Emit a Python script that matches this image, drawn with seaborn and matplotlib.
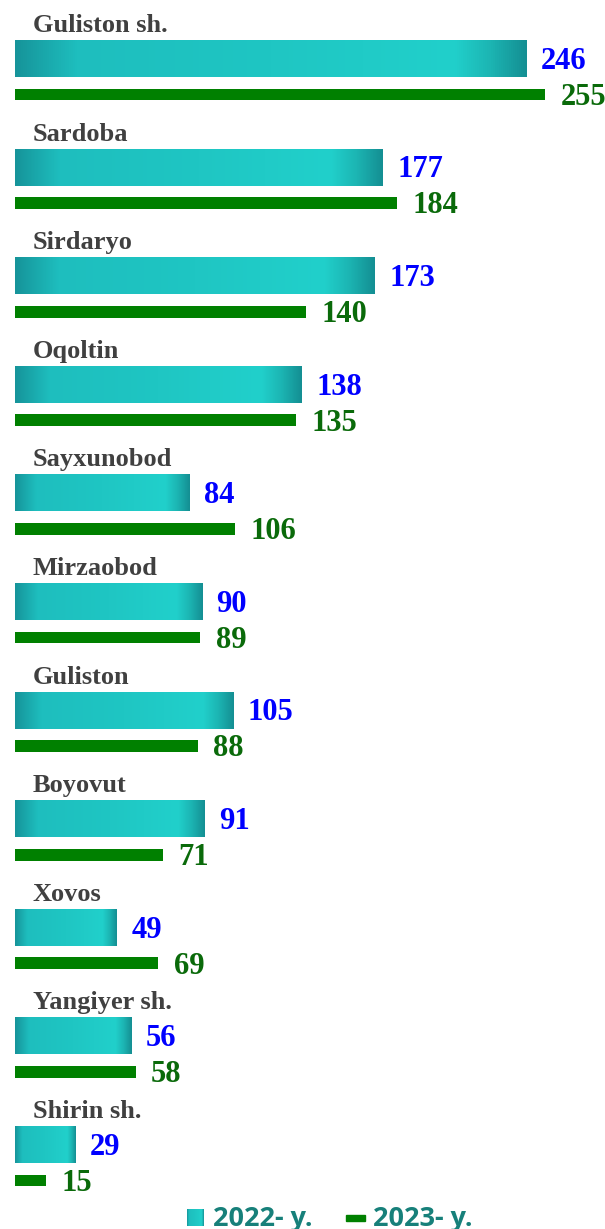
import numpy as np
import matplotlib
matplotlib.use("Agg")
import matplotlib.pyplot as plt
from matplotlib.colors import LinearSegmentedColormap
import seaborn as sns

# data
regions = ['Guliston sh.', 'Sardoba', 'Sirdaryo', 'Oqoltin', 'Sayxunobod',
           'Mirzaobod', 'Guliston', 'Boyovut', 'Xovos', 'Yangiyer sh.', 'Shirin sh.']
y2022 = [246, 177, 173, 138, 84, 90, 105, 91, 49, 56, 29]
y2023 = [255, 184, 140, 135, 106, 89, 88, 71, 69, 58, 15]
legend_labels = ['2022- y.', '2023- y.']

sns.set_theme(style='white')
plt.rcParams['font.family'] = ['Liberation Serif', 'DejaVu Serif']

fig = plt.figure(figsize=(6.05, 12.29), dpi=100)
ax = fig.add_axes([0, 0, 1, 1])

pos = np.arange(len(regions))
green_off = 0.3315

sns.barplot(x=y2022, y=pos, orient='h', native_scale=True, width=0.341,
            color='#1fc5c3', errorbar=None, ax=ax)
n_teal = len(ax.patches)
sns.barplot(x=y2023, y=pos + green_off, orient='h', native_scale=True, width=0.11,
            color='#008000', saturation=1, errorbar=None, ax=ax)

teal_cmap = LinearSegmentedColormap.from_list('teal', [
    (0.0, '#16949a'), (0.12, '#1ebebe'), (0.5, '#1fc6c3'),
    (0.86, '#21d0cb'), (0.93, '#1cb5b3'), (1.0, '#148f93')])
grad = np.linspace(0, 1, 256).reshape(1, -1)
for p in ax.patches[:n_teal]:
    p.set_edgecolor('none')
    x0, y0 = p.get_x(), p.get_y()
    w, h = p.get_width(), p.get_height()
    im = ax.imshow(grad, cmap=teal_cmap, aspect='auto',
                   extent=[x0, x0 + w, y0 + h, y0], zorder=3)
    im.set_clip_path(p)
for p in ax.patches[n_teal:]:
    p.set_edgecolor('none')

# labels
for i, name in enumerate(regions):
    ax.text(8.6, i - 0.244, name, fontsize=19, fontweight='bold',
            color='#404040', va='baseline', ha='left')
    ax.text(y2022[i] + 7.0, i + 0.095, str(y2022[i]), fontsize=22,
            fontweight='bold', color='#0000ff', va='baseline', ha='left')
    ax.text(y2023[i] + 7.5, i + green_off + 0.095, str(y2023[i]), fontsize=22,
            fontweight='bold', color='#0a6a0a', va='baseline', ha='left')

ax.set_xlim(-15 / 2.078, 590 / 2.078)
ax.set_ylim((1229 - 58.5) / 108.6, -58.5 / 108.6)
ax.axis('off')

# legend drawn by hand
W, H = 605, 1229
sq = fig.add_axes([187 / W, 1 - 1226 / H, 17 / W, 17 / H])
sq.imshow(grad, cmap=teal_cmap, aspect='auto')
sq.axis('off')
fig.patches.append(plt.Rectangle((346 / W, 1 - 1221 / H), 19 / W, 6 / H,
                                 transform=fig.transFigure, color='#008000'))
fig.text(213 / W, 1 - 1226 / H, legend_labels[0], fontsize=19.5, fontweight='bold',
         family=['Open Sans', 'DejaVu Sans'], color='#17807a', va='baseline')
fig.text(373 / W, 1 - 1226 / H, legend_labels[1], fontsize=19.5, fontweight='bold',
         family=['Open Sans', 'DejaVu Sans'], color='#17807a', va='baseline')

fig.savefig('out.png', dpi=100)
